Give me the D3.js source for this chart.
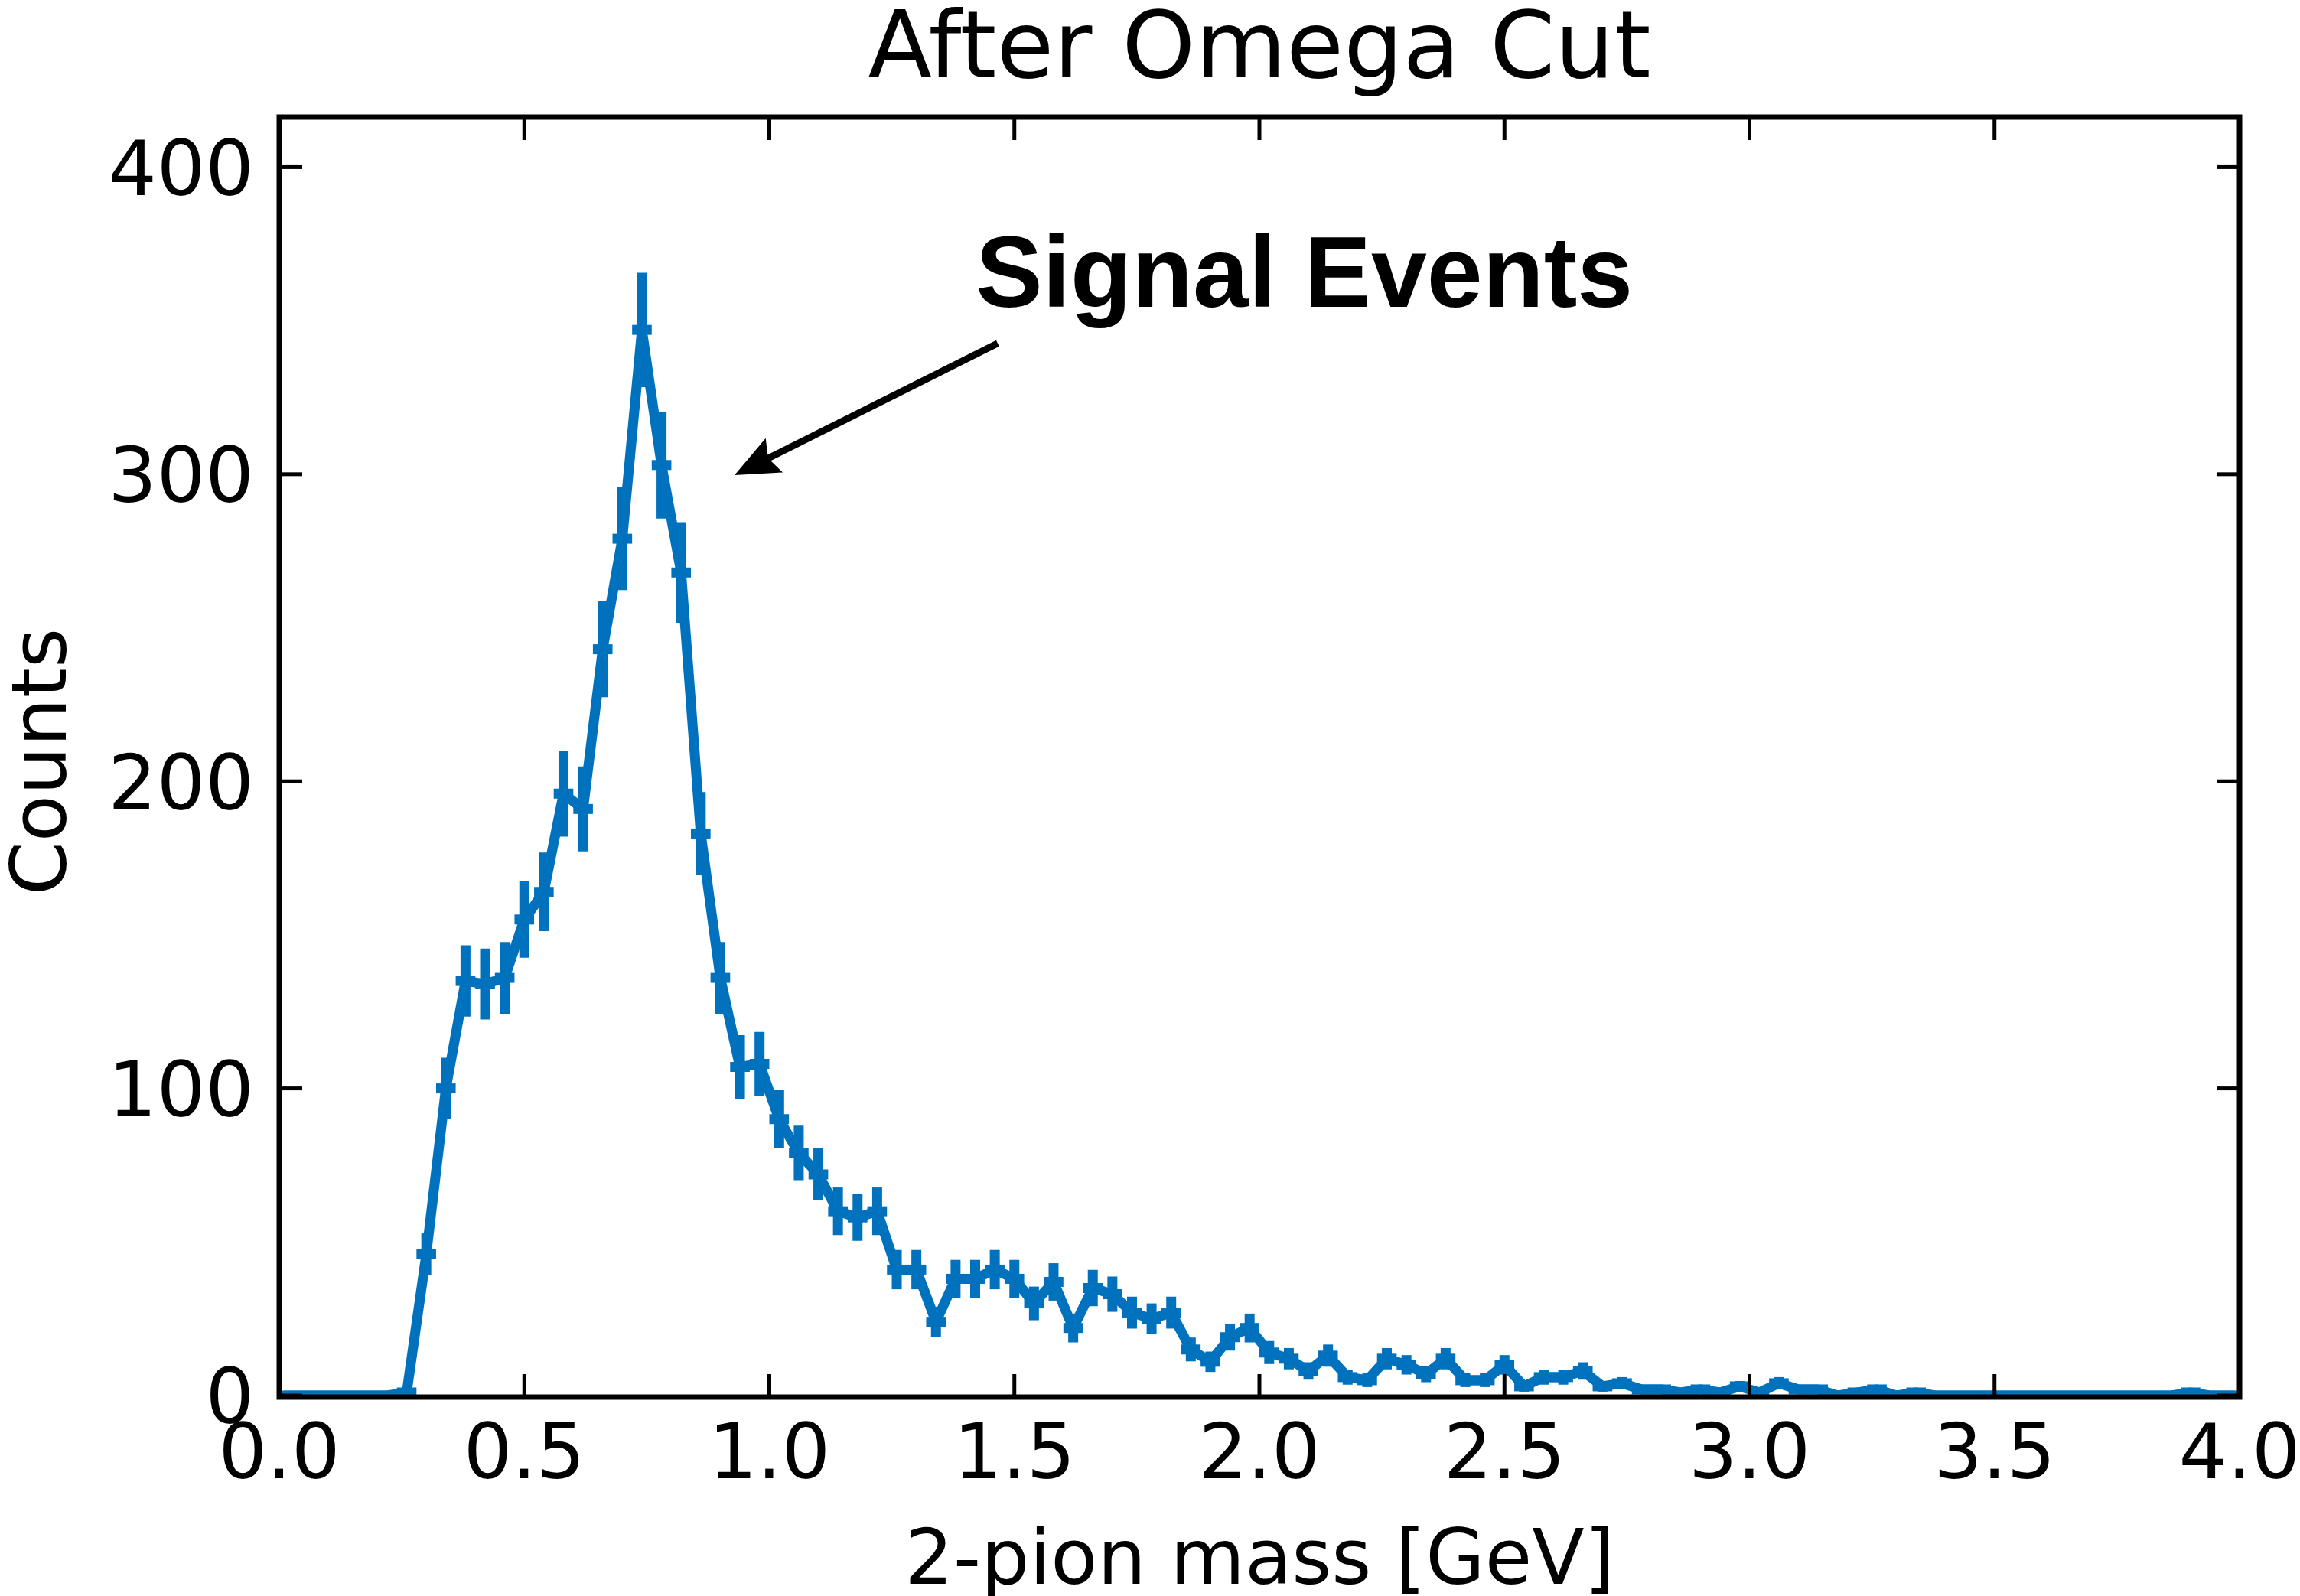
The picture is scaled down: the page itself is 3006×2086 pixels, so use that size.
<!DOCTYPE html>
<html>
<head>
<meta charset="utf-8">
<script src="https://cdn.jsdelivr.net/npm/d3@7"></script>
<style>
  html, body { margin: 0; padding: 0; background: #ffffff; }
  svg { display: block; }
  text { fill: #000; }
  .dv { font-family: "DejaVu Sans", sans-serif; }
  .note { font-family: "Liberation Sans", Arial, sans-serif; font-weight: bold; }
</style>
</head>
<body>
<svg id="chart" width="3006" height="2086"></svg>
<script>
// Bin centres of the 2-pion invariant mass histogram (GeV), 0.04 GeV bins
const massGeV = [
  0.02, 0.06, 0.10, 0.14, 0.18, 0.22, 0.26, 0.30, 0.34, 0.38,
  0.42, 0.46, 0.50, 0.54, 0.58, 0.62, 0.66, 0.70, 0.74, 0.78,
  0.82, 0.86, 0.90, 0.94, 0.98, 1.02, 1.06, 1.10, 1.14, 1.18,
  1.22, 1.26, 1.30, 1.34, 1.38, 1.42, 1.46, 1.50, 1.54, 1.58,
  1.62, 1.66, 1.70, 1.74, 1.78, 1.82, 1.86, 1.90, 1.94, 1.98,
  2.02, 2.06, 2.10, 2.14, 2.18, 2.22, 2.26, 2.30, 2.34, 2.38,
  2.42, 2.46, 2.50, 2.54, 2.58, 2.62, 2.66, 2.70, 2.74, 2.78,
  2.82, 2.86, 2.90, 2.94, 2.98, 3.02, 3.06, 3.10, 3.14, 3.18,
  3.22, 3.26, 3.30, 3.34, 3.38, 3.42, 3.46, 3.50, 3.54, 3.58,
  3.62, 3.66, 3.70, 3.74, 3.78, 3.82, 3.86, 3.90, 3.94, 3.98
];

// Events per bin after the omega cut
const counts = [
  0, 0, 0, 0, 0, 0, 1, 46, 100, 135,
  134, 136, 155, 164, 196, 191, 243, 279, 347, 303,
  268, 183, 136, 107, 108, 90, 79, 72, 60, 58,
  60, 41, 41, 24, 38, 38, 41, 38, 30, 37,
  22, 35, 33, 27, 25, 27, 15, 11, 19, 22,
  14, 12, 8, 13, 6, 5, 12, 10, 7, 12,
  5, 5, 10, 3, 6, 6, 8, 3, 4, 2,
  2, 1, 2, 1, 3, 1, 4, 2, 2, 0,
  1, 2, 0, 1, 0, 0, 0, 0, 0, 0,
  0, 0, 0, 0, 0, 0, 0, 1, 0, 0
];

const binHalfWidth = 0.02;

const xTickValues = [0.0, 0.5, 1.0, 1.5, 2.0, 2.5, 3.0, 3.5, 4.0];
const xTickLabels = ["0.0", "0.5", "1.0", "1.5", "2.0", "2.5", "3.0", "3.5", "4.0"];
const yTickValues = [0, 100, 200, 300, 400];
const yTickLabels = ["0", "100", "200", "300", "400"];

const titleText = "After Omega Cut";
const xLabelText = "2-pion mass [GeV]";
const yLabelText = "Counts";
const noteText = "Signal Events";

// ---- layout ----
const plot = { left: 365, right: 2927, top: 153, bottom: 1826 };
const blue = "#0072BD";
const lineW = 13;
const spineW = 7;
const tickLen = 30;
const tickW = 5;

const svg = d3.select("#chart");
svg.append("rect").attr("width", 3006).attr("height", 2086).attr("fill", "#fff");

const x = d3.scaleLinear().domain([0, 4]).range([plot.left, plot.right]);
const y = d3.scaleLinear().domain([-0.5, 416.3]).range([plot.bottom, plot.top]);

const data = massGeV.map((m, i) => ({ m, c: counts[i], e: Math.sqrt(counts[i]) }));

// clip data to the axes box
svg.append("defs").append("clipPath").attr("id", "plotClip")
  .append("rect")
  .attr("x", plot.left).attr("y", plot.top)
  .attr("width", plot.right - plot.left).attr("height", plot.bottom - plot.top);

const gData = svg.append("g").attr("clip-path", "url(#plotClip)");

// connecting line through the bin contents
gData.append("path")
  .datum(data)
  .attr("fill", "none")
  .attr("stroke", blue)
  .attr("stroke-width", lineW)
  .attr("stroke-linejoin", "round")
  .attr("stroke-linecap", "square")
  .attr("d", d3.line().x(d => x(d.m)).y(d => y(d.c)));

// horizontal error bars (bin width)
gData.append("g").selectAll("line")
  .data(data).join("line")
  .attr("x1", d => x(d.m - binHalfWidth))
  .attr("x2", d => x(d.m + binHalfWidth))
  .attr("y1", d => y(d.c))
  .attr("y2", d => y(d.c))
  .attr("stroke", blue)
  .attr("stroke-width", lineW);

// vertical error bars (Poisson sqrt(N))
gData.append("g").selectAll("line")
  .data(data.filter(d => d.c > 0)).join("line")
  .attr("x1", d => x(d.m))
  .attr("x2", d => x(d.m))
  .attr("y1", d => y(d.c - d.e))
  .attr("y2", d => y(d.c + d.e))
  .attr("stroke", blue)
  .attr("stroke-width", lineW);

// ---- ticks (inward, on all four sides) ----
const gTicks = svg.append("g").attr("stroke", "#000").attr("stroke-width", tickW);
xTickValues.forEach(v => {
  gTicks.append("line").attr("x1", x(v)).attr("x2", x(v))
    .attr("y1", plot.bottom).attr("y2", plot.bottom - tickLen);
  gTicks.append("line").attr("x1", x(v)).attr("x2", x(v))
    .attr("y1", plot.top).attr("y2", plot.top + tickLen);
});
yTickValues.forEach(v => {
  gTicks.append("line").attr("x1", plot.left).attr("x2", plot.left + tickLen)
    .attr("y1", y(v)).attr("y2", y(v));
  gTicks.append("line").attr("x1", plot.right).attr("x2", plot.right - tickLen)
    .attr("y1", y(v)).attr("y2", y(v));
});

// ---- spines ----
svg.append("rect")
  .attr("x", plot.left).attr("y", plot.top)
  .attr("width", plot.right - plot.left).attr("height", plot.bottom - plot.top)
  .attr("fill", "none").attr("stroke", "#000").attr("stroke-width", spineW);

// ---- tick labels ----
const fontSize = 100;
svg.append("g").selectAll("text")
  .data(xTickValues).join("text")
  .attr("class", "dv")
  .attr("x", d => x(d))
  .attr("y", 1932)
  .attr("text-anchor", "middle")
  .attr("font-size", fontSize)
  .text((d, i) => xTickLabels[i]);

svg.append("g").selectAll("text")
  .data(yTickValues).join("text")
  .attr("class", "dv")
  .attr("x", 332)
  .attr("y", d => y(d) + 0.3645 * fontSize)
  .attr("text-anchor", "end")
  .attr("font-size", fontSize)
  .text((d, i) => yTickLabels[i]);

// ---- axis labels and title ----
svg.append("text")
  .attr("class", "dv")
  .attr("x", (plot.left + plot.right) / 2)
  .attr("y", 2070)
  .attr("text-anchor", "middle")
  .attr("font-size", fontSize)
  .text(xLabelText);

svg.append("text")
  .attr("class", "dv")
  .attr("transform", `translate(86, ${(plot.top + plot.bottom) / 2 + 6}) rotate(-90)`)
  .attr("text-anchor", "middle")
  .attr("font-size", fontSize)
  .text(yLabelText);

svg.append("text")
  .attr("class", "dv")
  .attr("x", (plot.left + plot.right) / 2)
  .attr("y", 101)
  .attr("text-anchor", "middle")
  .attr("font-size", 122)
  .text(titleText);

// ---- annotation: label with arrow pointing at the peak ----
const note = { tx: 1.421, ty: 354.6, ax: 1.466, ay: 342.6, px: 0.929, py: 299.7 };

svg.append("text")
  .attr("class", "note")
  .attr("x", x(note.tx))
  .attr("y", y(note.ty))
  .attr("font-size", 131)
  .text(noteText);

const tail = [x(note.ax), y(note.ay)];
const tip = [x(note.px), y(note.py)];
const dx = tip[0] - tail[0], dy = tip[1] - tail[1];
const len = Math.hypot(dx, dy);
const ux = dx / len, uy = dy / len;          // unit vector toward tip
const nx = -uy, ny = ux;                     // normal
const headLen = 58, headHalf = 25, notch = 9;
const base = [tip[0] - ux * headLen, tip[1] - uy * headLen];

svg.append("line")
  .attr("x1", tail[0]).attr("y1", tail[1])
  .attr("x2", base[0] + ux * notch).attr("y2", base[1] + uy * notch)
  .attr("stroke", "#000").attr("stroke-width", 9);

svg.append("path")
  .attr("fill", "#000")
  .attr("d", d3.line()([
    tip,
    [base[0] + nx * headHalf, base[1] + ny * headHalf],
    [base[0] + ux * notch, base[1] + uy * notch],
    [base[0] - nx * headHalf, base[1] - ny * headHalf]
  ]) + "Z");
</script>
</body>
</html>
